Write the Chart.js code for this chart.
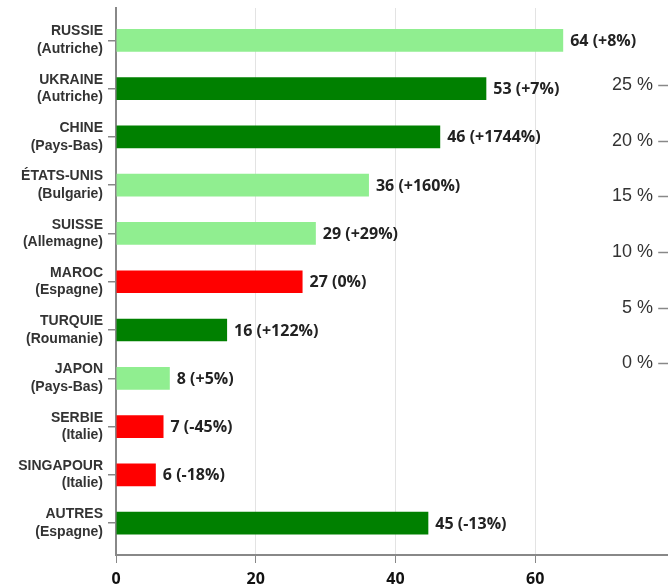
<!DOCTYPE html>
<html>
<head>
<meta charset="utf-8">
<script src="https://cdn.jsdelivr.net/npm/chart.js@4/dist/chart.umd.min.js"></script>
<style>
  html, body { margin: 0; padding: 0; background: #fff; }
  #wrap { width: 668px; height: 585px; }
</style>
</head>
<body>
<div id="wrap"><canvas id="c" width="668" height="585"></canvas></div>
<script>
// ---- data ----
const countries = ['RUSSIE', 'UKRAINE', 'CHINE', 'ÉTATS-UNIS', 'SUISSE', 'MAROC', 'TURQUIE', 'JAPON', 'SERBIE', 'SINGAPOUR', 'AUTRES'];
const partners  = ['Autriche', 'Autriche', 'Pays-Bas', 'Bulgarie', 'Allemagne', 'Espagne', 'Roumanie', 'Pays-Bas', 'Italie', 'Italie', 'Espagne'];
const values    = [64, 53, 46.4, 36.2, 28.6, 26.7, 15.9, 7.7, 6.8, 5.7, 44.7];
const changes   = ['+8%', '+7%', '+1744%', '+160%', '+29%', '0%', '+122%', '+5%', '-45%', '-18%', '-13%'];
const barColors = ['#90EE90', '#008000', '#008000', '#90EE90', '#90EE90', '#FF0000', '#008000', '#90EE90', '#FF0000', '#FF0000', '#008000'];
const xTicks    = [0, 20, 40, 60];
const pctTicks  = [0, 5, 10, 15, 20, 25];

const points = values.map((v, i) => ({ x: v, y: i }));

const valueLabels = {
  id: 'valueLabels',
  afterDatasetsDraw(chart) {
    const ctx = chart.ctx;
    const meta = chart.getDatasetMeta(0);
    ctx.save();
    ctx.font = 'bold 16px "Open Sans"';
    ctx.fillStyle = '#222';
    ctx.textAlign = 'left';
    ctx.textBaseline = 'middle';
    meta.data.forEach((bar, i) => {
      ctx.fillText(Math.round(values[i]) + ' (' + changes[i] + ')', bar.x + 7, bar.y + 1);
    });
    ctx.restore();
  }
};

// tick marks to the right of the % labels
const pctTickMarks = {
  id: 'pctTickMarks',
  afterDraw(chart) {
    const ctx = chart.ctx;
    const ps = chart.scales.pct;
    const xs = chart.scales.x;
    const x1 = xs.getPixelForValue(77.6);
    const x2 = chart.chartArea.right;
    ctx.save();
    ctx.strokeStyle = '#888';
    ctx.lineWidth = 1.5;
    pctTicks.forEach(v => {
      const y = Math.round(ps.getPixelForValue(v)) + 0.5;
      ctx.beginPath();
      ctx.moveTo(x1, y);
      ctx.lineTo(x2, y);
      ctx.stroke();
    });
    ctx.restore();
  }
};

const noPad = (s) => { s.paddingTop = 0; s.paddingBottom = 0; };

new Chart(document.getElementById('c'), {
  type: 'bar',
  data: {
    datasets: [{
      data: points,
      backgroundColor: barColors,
      borderWidth: 0,
      barPercentage: 0.47,
      categoryPercentage: 1,
      xAxisID: 'x',
      yAxisID: 'y'
    }]
  },
  options: {
    indexAxis: 'y',
    responsive: false,
    animation: false,
    layout: { padding: { top: 8, right: 0, left: 0, bottom: 0 } },
    plugins: { legend: { display: false }, tooltip: { enabled: false } },
    scales: {
      x: {
        type: 'linear',
        position: 'bottom',
        min: 0,
        max: 79,
        afterBuildTicks(s) { s.ticks = xTicks.map(v => ({ value: v })); },
        afterFit(s) { s.height = 30; },
        grid: {
          color: (c) => (c.tick && c.tick.value === 0) ? 'rgba(0,0,0,0)' : '#e3e3e3',
          tickColor: '#888',
          tickLength: 8,
          lineWidth: 1
        },
        border: { display: true, color: '#888', width: 2 },
        ticks: {
          font: { family: 'Open Sans', weight: 'bold', size: 16 },
          color: '#111',
          padding: 7,
          maxRotation: 0
        }
      },
      y: {
        type: 'linear',
        position: 'left',
        reverse: true,
        offset: false,
        min: -0.67,
        max: 10.66,
        afterBuildTicks(s) { s.ticks = countries.map((c, i) => ({ value: i })); },
        afterFit(s) { s.width = 116; noPad(s); },
        grid: { offset: false, drawOnChartArea: false, tickColor: '#888', tickLength: 8, lineWidth: 1.5 },
        border: { display: true, color: '#888', width: 2 },
        ticks: {
          callback: (v) => [countries[v], '(' + partners[v] + ')'],
          font: { family: 'Liberation Sans', weight: 'bold', size: 14, lineHeight: 1.25 },
          color: '#333',
          padding: 5
        }
      },
      pct: {
        type: 'linear',
        axis: 'y',
        position: { x: 76.85 },
        offset: false,
        min: -17.24,
        max: 31.95,
        afterBuildTicks(s) { s.ticks = pctTicks.map(v => ({ value: v })); },
        afterFit(s) { noPad(s); },
        grid: { offset: false, display: false, drawOnChartArea: false, drawTicks: false },
        border: { display: false },
        ticks: {
          callback: (v) => v + ' %',
          font: { family: 'Liberation Sans', size: 18 },
          color: '#333',
          padding: 0
        }
      }
    }
  },
  plugins: [valueLabels, pctTickMarks]
});
</script>
</body>
</html>
